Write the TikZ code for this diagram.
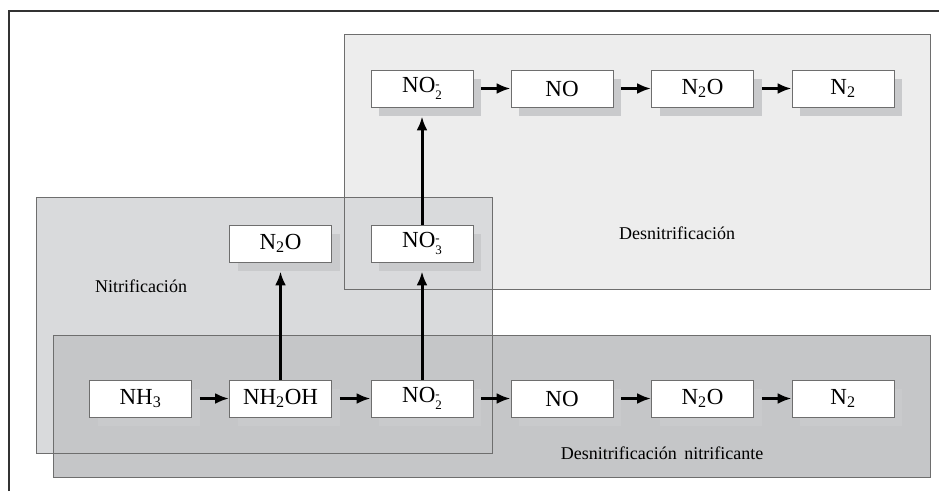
\documentclass[tikz,border=0pt]{standalone}
\usepackage{fontspec}
\setmainfont{Liberation Serif}
\usetikzlibrary{arrows.meta,shadows}
\definecolor{denitfill}{HTML}{EDEDED}
\definecolor{nitfill}{HTML}{D9DADC}
\definecolor{nitdenitfill}{HTML}{C5C6C8}
\definecolor{edgegray}{HTML}{6E6E6E}
\definecolor{shadowgray}{HTML}{C9CACC}
\newcommand{\nitrite}[1]{NO\raisebox{-7pt}{\fontsize{13}{11}\selectfont\shortstack[l]{-\\#1}}}

\begin{document}
\begin{tikzpicture}[x=1pt,y=-1pt,
    species/.style={rectangle,draw=edgegray,line width=0.9pt,fill=white,
      minimum width=102pt,minimum height=37pt,inner sep=0pt,
      font=\fontsize{23}{27}\selectfont,
      drop shadow={shadow xshift=8pt,shadow yshift=-9pt,fill=shadowgray,opacity=1}},
    region/.style={draw=edgegray,line width=0.9pt},
    tag/.style={font=\fontsize{18}{22}\selectfont},
    flow/.style={-{Latex[length=14pt,width=11pt]},line width=3pt,black}]
    \clip (0,0) rectangle (939,491);
    \fill[white] (0,0) rectangle (939,491);
    % Outer frame
    \draw[line width=1.8pt,black!80] (9,491) |- (939,11);

    % Process regions
    \fill[denitfill] (344,34) rectangle (930,289);
    \fill[nitfill] (36,197) rectangle (492,453);
    \fill[nitdenitfill] (53,335) rectangle (930,477);
    \draw[region] (344,34) rectangle (930,289);
    \draw[region] (36,197) rectangle (492,453);
    \draw[region] (53,335) rectangle (930,477);

    \node[tag] (Denit) at (677,233) {Desnitrificación};
    \node[tag] (Nit) at (141,286) {Nitrificación};
    \node[tag] (NitDenit) at (662,453) {Desnitrificación\, nitrificante};

    % Denitrification row
    \node[species] (NOtwoT) at (422,88.5) {\nitrite{2}};
    \node[species] (NOT) at (562,88.5) {NO};
    \node[species] (NtwoOT) at (702.5,88.5) {N\textsubscript{2}O};
    \node[species] (NtwoT) at (843,88.5) {N\textsubscript{2}};

    % Nitrification products
    \node[species] (NtwoOM) at (280.5,243.5) {N\textsubscript{2}O};
    \node[species] (NOthreeM) at (422,243.5) {\nitrite{3}};

    % Nitrifier denitrification row
    \node[species] (NHthree) at (140.5,398.5) {NH\textsubscript{3}};
    \node[species] (NHtwoOH) at (280.5,398.5) {NH\textsubscript{2}OH};
    \node[species] (NOtwoB) at (422,398.5) {\nitrite{2}};
    \node[species] (NOB) at (562,398.5) {NO};
    \node[species] (NtwoOB) at (702.5,398.5) {N\textsubscript{2}O};
    \node[species] (NtwoB) at (843,398.5) {N\textsubscript{2}};

    \draw[flow,shorten <=8pt] (NOtwoT) -- (NOT);
    \draw[flow,shorten <=8pt] (NOT) -- (NtwoOT);
    \draw[flow,shorten <=8pt] (NtwoOT) -- (NtwoT);

    \draw[flow,shorten <=8pt] (NHthree) -- (NHtwoOH);
    \draw[flow,shorten <=8pt] (NHtwoOH) -- (NOtwoB);
    \draw[flow,shorten <=8pt] (NOtwoB) -- (NOB);
    \draw[flow,shorten <=8pt] (NOB) -- (NtwoOB);
    \draw[flow,shorten <=8pt] (NtwoOB) -- (NtwoB);

    \draw[flow,shorten >=9pt] (NHtwoOH) -- (NtwoOM);
    \draw[flow,shorten >=9pt] (NOtwoB) -- (NOthreeM);
    \draw[flow,shorten >=9pt] (NOthreeM) -- (NOtwoT);
\end{tikzpicture}
\end{document}
